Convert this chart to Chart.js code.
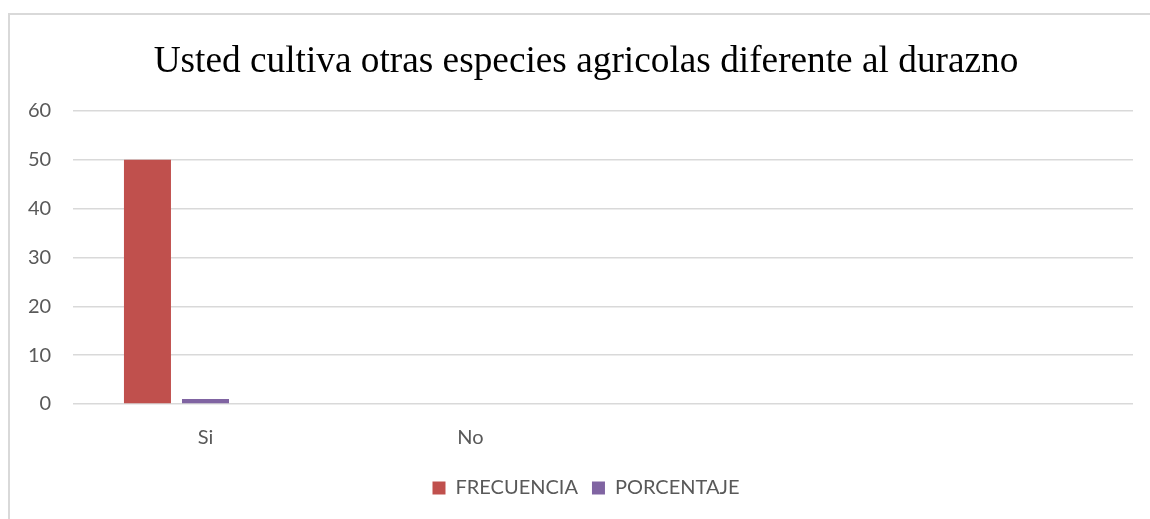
<!DOCTYPE html>
<html>
<head>
<meta charset="utf-8">
<script src="https://cdn.jsdelivr.net/npm/chart.js@4/dist/chart.umd.min.js"></script>
<style>
  html, body { margin: 0; padding: 0; background: #fff; }
  #wrap { position: relative; width: 1150px; height: 519px; overflow: hidden; }
  #frame { position: absolute; left: 8px; top: 13px; width: 1160px; height: 530px;
           border-left: 2px solid #d9d9d9; border-top: 2px solid #d9d9d9; }
  canvas { position: absolute; left: 0; top: 0; }
</style>
</head>
<body>
<div id="wrap">
  <div id="frame"></div>
  <canvas id="chart" width="1150" height="519"></canvas>
</div>
<script>
const categories = ["Si", "No", "", ""];
const frecuencia = [50, 0, null, null];
const porcentaje = [1, 0, null, null];
const extra = [null, null, null, null];
const yTicks = [0, 10, 20, 30, 40, 50, 60];

const axisFont = { family: "Lato, 'Open Sans', sans-serif", size: 20 };

new Chart(document.getElementById("chart").getContext("2d"), {
  type: "bar",
  data: {
    labels: categories,
    datasets: [
      { label: "FRECUENCIA", data: frecuencia, backgroundColor: "#c0504d" },
      { label: "PORCENTAJE", data: porcentaje, backgroundColor: "#8064a2" },
      { label: "", data: extra, backgroundColor: "#9bbb59" },
    ],
  },
  options: {
    responsive: false,
    animation: false,
    categoryPercentage: 0.657,
    barPercentage: 0.81,
    layout: { padding: { left: 39, right: 17, top: 40, bottom: 11 } },
    plugins: {
      title: {
        display: true,
        text: "Usted cultiva otras especies agricolas diferente al durazno",
        color: "#000",
        font: { family: "'Liberation Serif', 'Times New Roman', serif", size: 37.3, weight: "normal" },
        padding: { top: 0, bottom: 26 },
      },
      legend: {
        position: "bottom",
        labels: {
          color: "#595959",
          font: axisFont,
          boxWidth: 13,
          boxHeight: 13,
          padding: 14,
          filter: (item) => item.text !== "",
        },
      },
      tooltip: { enabled: false },
    },
    scales: {
      x: {
        grid: { display: false },
        border: { display: false },
        ticks: { color: "#595959", font: axisFont, padding: 14 },
      },
      y: {
        min: yTicks[0],
        max: yTicks[yTicks.length - 1],
        afterBuildTicks: (axis) => { axis.ticks = yTicks.map((v) => ({ value: v })); },
        // narrow axis box; mirrored labels are pulled back out to the left
        afterFit: (axis) => { axis.width = 34; },
        grid: { color: "#d9d9d9", lineWidth: 1.5, drawTicks: false },
        border: { display: false },
        ticks: { color: "#595959", font: axisFont, mirror: true, crossAlign: "far", padding: -45 },
      },
    },
  },
});
</script>
</body>
</html>
